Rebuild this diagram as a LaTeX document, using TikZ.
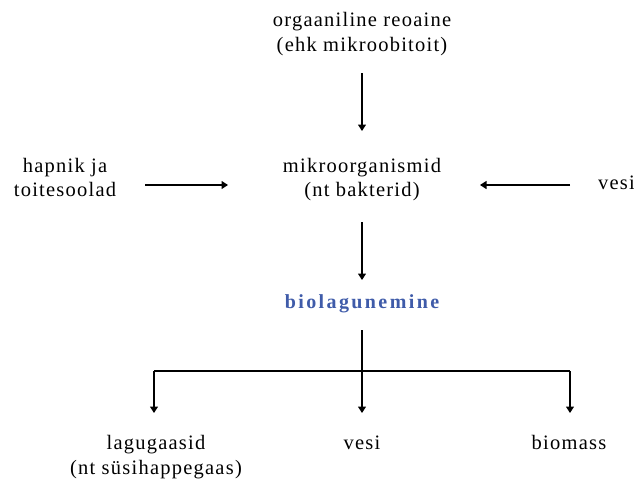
\documentclass[tikz,border=0pt]{standalone}
\usepackage{fontspec}
\setmainfont{Liberation Serif}[LetterSpace=6]
\newfontfamily\boldspaced{Liberation Serif}[LetterSpace=12,BoldFont={* Bold}]
\usetikzlibrary{arrows.meta}
\definecolor{bioblue}{RGB}{63,91,169}
\begin{document}
\begin{tikzpicture}[x=1pt,y=-1pt,
  lbl/.style={align=center,font=\fontsize{20.5}{24.5}\selectfont,inner sep=0pt},
  conn/.style={line width=1.1pt,-{Triangle[length=6.5pt,width=8pt]}},
  plain/.style={line width=1.1pt}]
\useasboundingbox (0,0) rectangle (634,479);
\node[lbl] (org) at (362,34.2) {orgaaniline reoaine\\(ehk mikroobitoit)};
\node[lbl] (mik) at (362,179.8) {mikroorganismid\\(nt bakterid)};
\node[lbl] (hap) at (65,177.5) {hapnik ja\\toitesoolad};
\node[lbl,anchor=base east] (vesiR) at (635,189) {vesi};
\node[lbl,font=\boldspaced\bfseries\fontsize{20}{23}\selectfont,text=bioblue,anchor=base] (bio) at (362,308) {biolagunemine};
\node[lbl] (lag) at (156,456.9) {lagugaasid\\(nt süsihappegaas)};
\node[lbl,anchor=base] (vesiB) at (362,449) {vesi};
\node[lbl,anchor=base] (biom) at (569,449) {biomass};
\coordinate (hl) at (154,371);
\coordinate (hr) at (570,371);
\coordinate (hm) at (362,371);
\draw[conn] (362,73) -- (362,131);
\draw[conn] (145,185) -- (228,185);
\draw[conn] (570,185) -- (480,185);
\draw[conn] (362,222) -- (362,280);
\draw[plain] (362,330) -- (hm);
\draw[plain] (hl) -- (hr);
\draw[conn] (hm) -- (362,413);
\draw[conn] (hl) -- (154,413);
\draw[conn] (hr) -- (570,413);
\end{tikzpicture}
\end{document}
